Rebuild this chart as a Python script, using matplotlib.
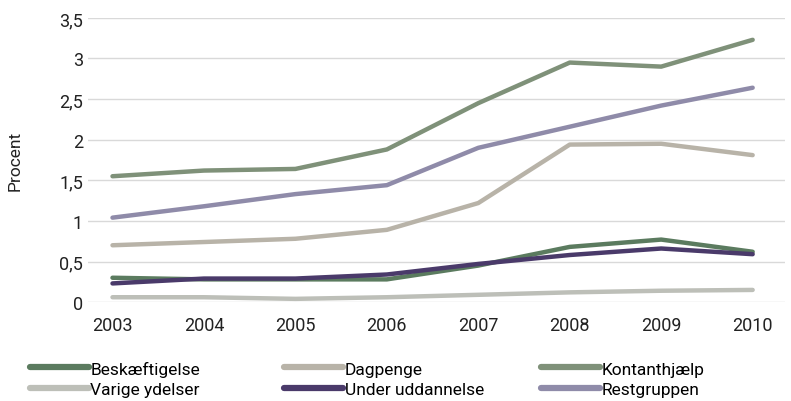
import matplotlib
matplotlib.use("Agg")
import matplotlib.pyplot as plt
from matplotlib.ticker import FuncFormatter

years = [2003, 2004, 2005, 2006, 2007, 2008, 2009, 2010]

beskaeftigelse = [0.30, 0.28, 0.28, 0.28, 0.45, 0.68, 0.77, 0.62]
dagpenge = [0.70, 0.74, 0.78, 0.89, 1.22, 1.94, 1.95, 1.81]
kontanthjaelp = [1.55, 1.62, 1.64, 1.88, 2.45, 2.95, 2.90, 3.23]
varige_ydelser = [0.06, 0.06, 0.04, 0.06, 0.09, 0.12, 0.14, 0.15]
under_uddannelse = [0.23, 0.29, 0.29, 0.34, 0.47, 0.58, 0.66, 0.59]
restgruppen = [1.04, 1.18, 1.33, 1.44, 1.90, 2.16, 2.42, 2.64]

series = [
    ("Beskæftigelse", beskaeftigelse, "#5b7b5f"),
    ("Dagpenge", dagpenge, "#b8b3a8"),
    ("Kontanthjælp", kontanthjaelp, "#7f9179"),
    ("Varige ydelser", varige_ydelser, "#bdbfb8"),
    ("Under uddannelse", under_uddannelse, "#4a3a6a"),
    ("Restgruppen", restgruppen, "#8f8ba9"),
]

plt.rcParams["font.family"] = ["Roboto", "DejaVu Sans"]

fig = plt.figure(figsize=(7.91, 4.02), dpi=100)
ax = fig.add_axes([0.111, 0.246, 0.881, 0.707])

handles = {}
for name, vals, color in series:
    (ln,) = ax.plot(years, vals, color=color, linewidth=3.2, label=name,
                    solid_capstyle="round")
    handles[name] = ln

ax.set_xlim(2002.73, 2010.35)
ax.set_ylim(0, 3.5)
ax.set_yticks([0, 0.5, 1, 1.5, 2, 2.5, 3, 3.5])
ax.yaxis.set_major_formatter(FuncFormatter(lambda v, p: f"{v:g}".replace(".", ",")))
ax.set_xticks(years)
ax.grid(axis="y", color="#d9d9d9", linewidth=1)
ax.set_axisbelow(True)
for s in ax.spines.values():
    s.set_visible(False)
ax.tick_params(length=0, labelsize=13, colors="#222222")
ax.tick_params(axis="x", pad=10)
ax.set_ylabel("Procent", fontsize=12.5, color="#222222", labelpad=26)

# one legend per column, the reference reads row by row
columns = [
    (["Beskæftigelse", "Varige ydelser"], 0.022),
    (["Dagpenge", "Under uddannelse"], 0.344),
    (["Kontanthjælp", "Restgruppen"], 0.669),
]
for names, x0 in columns:
    leg = fig.legend([handles[n] for n in names], names, loc="lower left",
                     bbox_to_anchor=(x0, -0.02), frameon=False, fontsize=12.5,
                     handlelength=3.4, handletextpad=0.1, labelspacing=0.3,
                     borderpad=0.2)
    for ln in leg.get_lines():
        ln.set_linewidth(4.5)

fig.savefig("out.png", dpi=100)
